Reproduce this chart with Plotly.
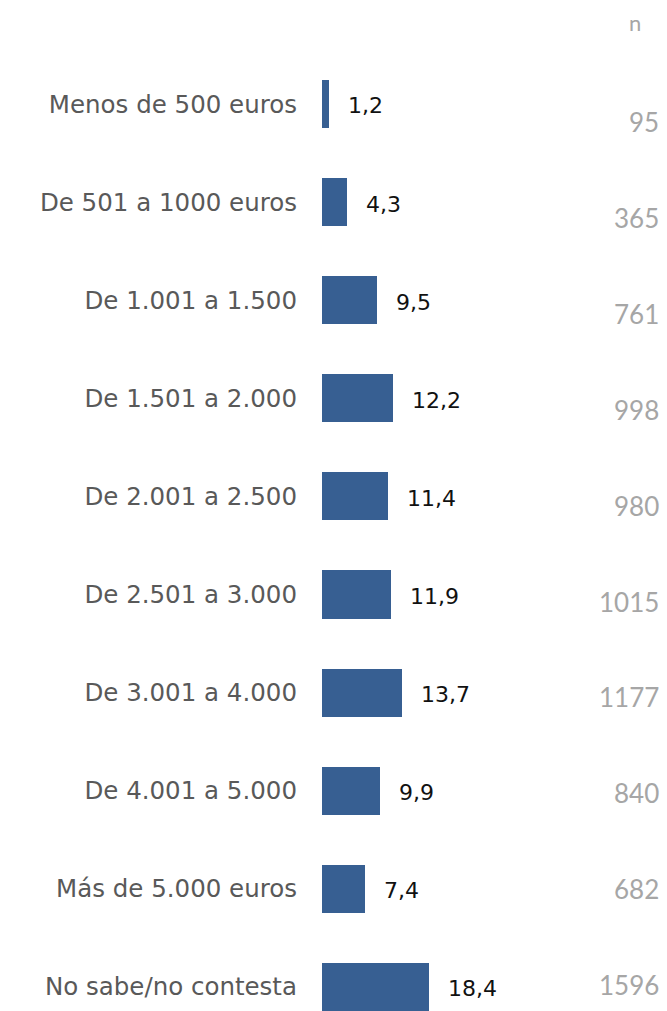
"""Income-bracket distribution: horizontal bars with an n column."""

import plotly.graph_objects as go

# Data.
CATEGORIES = [
    "Menos de 500 euros",
    "De 501 a 1000 euros",
    "De 1.001 a 1.500",
    "De 1.501 a 2.000",
    "De 2.001 a 2.500",
    "De 2.501 a 3.000",
    "De 3.001 a 4.000",
    "De 4.001 a 5.000",
    "Más de 5.000 euros",
    "No sabe/no contesta",
]
PERCENT = [1.2, 4.3, 9.5, 12.2, 11.4, 11.9, 13.7, 9.9, 7.4, 18.4]
N_COUNTS = [95, 365, 761, 998, 980, 1015, 1177, 840, 682, 1596]

BAR = "#375f92"
LABEL_INK = "#595959"
VALUE_INK = "#111111"
N_INK = "#a6a6a6"

idx = list(range(len(CATEGORIES)))

fig = go.Figure()
fig.add_trace(
    go.Bar(
        x=PERCENT,
        y=idx,
        orientation="h",
        width=0.49,
        marker=dict(color=BAR, line=dict(width=0)),
        hoverinfo="skip",
    )
)

# value labels just right of each bar
for i, v in zip(idx, PERCENT):
    fig.add_annotation(
        x=v, y=i, xref="x", yref="y",
        text=f"{v:.1f}".replace(".", ","),
        showarrow=False, xanchor="left", yanchor="middle",
        xshift=17, yshift=-2,
        font=dict(size=22, color=VALUE_INK, family="DejaVu Sans"),
    )

# n column sits on its own (slightly different) vertical scale
for i, n in zip(idx, N_COUNTS):
    fig.add_annotation(
        x=1.0, y=i, xref="paper", yref="y2",
        text=str(n), showarrow=False, xanchor="right", yanchor="middle",
        xshift=-6,
        font=dict(size=26, color=N_INK, family="Lato"),
    )
fig.add_annotation(
    x=1.0, y=0.978, xref="paper", yref="paper",
    text="n", showarrow=False, xanchor="right", yanchor="middle",
    xshift=-24,
    font=dict(size=22, color=N_INK, family="Lato"),
)

fig.update_layout(
    width=667,
    height=1011,
    paper_bgcolor="white",
    plot_bgcolor="white",
    margin=dict(l=322, r=0, t=0, b=0),
    showlegend=False,
    bargap=0,
    xaxis=dict(
        range=[0, 59.3], visible=False, fixedrange=True,
    ),
    yaxis=dict(
        range=[9.246, -1.06],
        tickvals=idx,
        ticktext=CATEGORIES,
        showgrid=False, zeroline=False, showline=False,
        ticks="", ticklabelstandoff=24,
        tickfont=dict(size=24.5, color=LABEL_INK, family="DejaVu Sans"),
    ),
    yaxis2=dict(
        range=[9.27, -1.272], overlaying="y", visible=False,
    ),
)

# drop the default 8px body margin so the figure fills the window exactly
fig.write_html(
    "out.html",
    config={"displayModeBar": False},
    post_script="document.body.style.margin='0';document.body.style.overflow='hidden';",
)
